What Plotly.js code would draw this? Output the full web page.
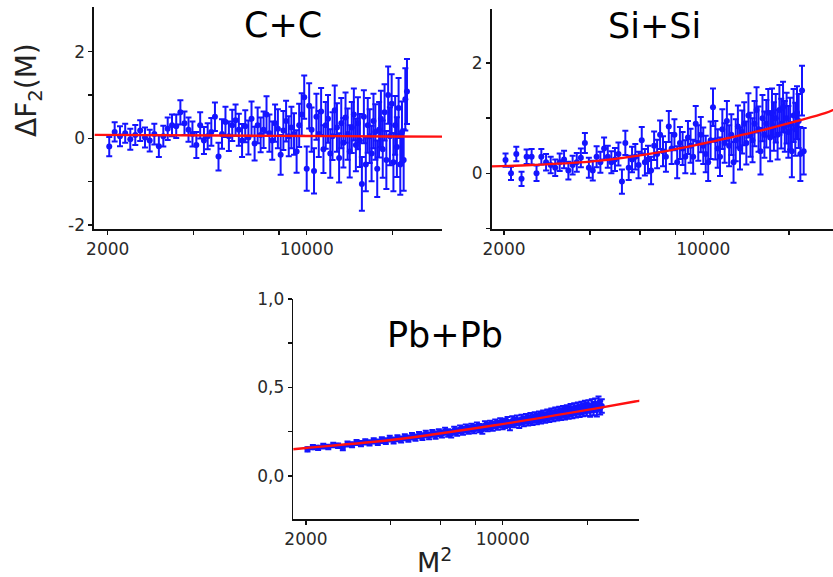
<!DOCTYPE html>
<html>
<head>
<meta charset="utf-8">
<script src="https://cdn.plot.ly/plotly-3.0.1.min.js"></script>
<style>html,body{margin:0;padding:0;background:#fff;}#chart{width:833px;height:577px;}</style>
</head>
<body>
<div id="chart"></div>
<script>
// Shared mass bins (M^2, GeV^2)
const m2 = [2025,2116,2209,2304,2401,2500,2601,2704,2809,2916,3025,3136,3249,3364,3481,3600,3721,3844,3969,4096,4225,4356,4489,4624,4761,4900,5041,5184,5329,5476,5625,5776,5929,6084,6241,6400,6561,6724,6889,7056,7225,7396,7569,7744,7921,8100,8281,8464,8649,8836,9025,9216,9409,9604,9801,10000,10201,10404,10609,10816,11025,11236,11449,11664,11881,12100,12321,12544,12769,12996,13225,13456,13689,13924,14161,14400,14641,14884,15129,15376,15625,15876,16129,16384,16641,16900,17161,17424,17689,17956,18225,18496,18769,19044,19321,19600,19881,20164,20449,20736,21025,21316,21609,21904,22201,22500];

// C+C
const ccY = [-0.19,0.15,0.05,0.12,-0.02,0.08,0.18,0.02,-0.05,0.10,
 -0.18,0.05,0.22,0.30,0.28,0.60,0.35,0.20,0.10,-0.15,
 0.30,-0.05,0.05,0.15,0.50,-0.42,0.10,0.38,0.05,0.30,
 0.42,0.20,-0.05,0.28,0.02,0.45,-0.12,0.30,0.08,0.20,
 0.55,0.12,-0.05,0.35,0.22,-0.38,0.18,0.40,0.05,0.25,
 0.10,-0.30,0.30,0.55,0.95,-0.70,0.75,0.20,-0.75,0.50,
 0.10,0.62,-0.25,0.30,0.45,-0.35,0.05,0.65,0.25,-0.45,
 0.35,-0.10,0.48,0.10,-0.30,0.25,0.55,-0.15,0.35,-0.05,
 -1.05,0.50,-0.60,0.30,0.05,-0.35,0.40,0.15,-0.70,0.20,
 0.45,-0.25,0.60,-0.50,1.00,0.05,0.80,-0.55,0.30,-0.20,
 0.70,-0.60,0.15,-0.50,0.90,1.08];
const ccErr = [0.22,0.22,0.23,0.22,0.24,0.23,0.24,0.23,0.25,0.24,
 0.25,0.24,0.26,0.25,0.27,0.28,0.27,0.28,0.29,0.30,
 0.30,0.31,0.30,0.32,0.33,0.32,0.34,0.35,0.34,0.36,
 0.36,0.37,0.38,0.37,0.39,0.40,0.39,0.41,0.40,0.42,
 0.42,0.43,0.44,0.43,0.45,0.46,0.45,0.47,0.46,0.48,
 0.48,0.49,0.50,0.49,0.50,0.51,0.52,0.51,0.52,0.53,
 0.53,0.54,0.55,0.54,0.55,0.56,0.55,0.57,0.56,0.57,
 0.58,0.57,0.58,0.59,0.60,0.59,0.60,0.61,0.60,0.61,
 0.62,0.61,0.62,0.63,0.62,0.64,0.63,0.64,0.65,0.64,
 0.65,0.66,0.65,0.67,0.66,0.67,0.68,0.67,0.68,0.69,
 0.69,0.70,0.70,0.71,0.72,0.75];
const ccFitX = [1800,5000,10000,20000,30000];
const ccFitY = [0.08,0.065,0.055,0.045,0.04];

// Si+Si
const siY = [0.24,0.00,0.35,-0.10,0.30,0.30,0.00,0.30,0.20,0.15,
 0.10,0.20,0.25,0.05,0.15,0.20,0.28,0.55,0.10,0.05,
 0.30,0.20,0.45,0.30,0.20,0.25,0.35,-0.15,0.55,0.10,
 0.25,0.30,0.15,0.60,0.20,0.25,0.05,0.50,0.35,0.70,
 0.40,0.30,0.85,0.45,0.70,0.20,0.55,0.45,0.30,0.65,
 0.50,0.30,0.90,0.55,0.70,0.50,0.35,0.20,0.60,1.20,
 0.60,0.45,0.30,0.80,0.55,0.95,0.50,0.70,0.20,0.60,
 0.85,0.45,0.75,0.90,0.55,1.05,0.70,0.60,0.90,1.15,
 0.80,0.40,1.00,0.70,0.90,1.10,0.65,1.10,0.85,1.00,
 0.70,1.15,0.90,1.20,0.85,1.00,0.75,0.90,0.40,1.05,
 0.80,1.10,0.95,0.35,1.50,0.40];
const siErr = [0.12,0.12,0.13,0.13,0.13,0.14,0.14,0.14,0.15,0.15,
 0.15,0.16,0.16,0.16,0.17,0.17,0.17,0.18,0.18,0.18,
 0.19,0.19,0.20,0.20,0.20,0.21,0.21,0.22,0.22,0.22,
 0.23,0.23,0.24,0.24,0.24,0.25,0.25,0.26,0.26,0.26,
 0.27,0.27,0.28,0.28,0.28,0.29,0.29,0.30,0.30,0.30,
 0.31,0.31,0.32,0.32,0.32,0.33,0.33,0.34,0.34,0.34,
 0.35,0.35,0.35,0.36,0.36,0.36,0.37,0.37,0.37,0.38,
 0.38,0.38,0.39,0.39,0.39,0.40,0.40,0.40,0.41,0.41,
 0.41,0.42,0.42,0.42,0.43,0.43,0.43,0.44,0.44,0.44,
 0.45,0.45,0.45,0.46,0.46,0.46,0.47,0.47,0.47,0.48,
 0.48,0.48,0.49,0.49,0.45,0.42];
const siFitX = [1800,2500,4170,7150,10000,12240,16000,20980,26730,30000];
const siFitY = [0.125,0.15,0.22,0.39,0.54,0.64,0.78,0.94,1.09,1.20];

// Pb+Pb
const pbY = [0.150,0.162,0.158,0.168,0.163,0.174,0.170,0.158,0.180,0.176,
 0.188,0.182,0.192,0.186,0.198,0.190,0.202,0.196,0.210,0.200,
 0.212,0.206,0.218,0.210,0.224,0.216,0.230,0.222,0.236,0.226,
 0.240,0.230,0.244,0.236,0.252,0.242,0.238,0.256,0.248,0.262,
 0.254,0.268,0.260,0.272,0.264,0.278,0.270,0.262,0.284,0.276,
 0.288,0.280,0.294,0.286,0.300,0.290,0.296,0.306,0.284,0.310,
 0.302,0.314,0.298,0.318,0.308,0.322,0.312,0.326,0.316,0.330,
 0.320,0.334,0.326,0.340,0.330,0.344,0.336,0.350,0.340,0.355,
 0.345,0.358,0.348,0.362,0.352,0.366,0.356,0.372,0.360,0.376,
 0.364,0.380,0.368,0.384,0.372,0.388,0.376,0.392,0.370,0.396,
 0.380,0.400,0.372,0.410,0.385,0.395];
const pbErr = [0.012,0.012,0.012,0.013,0.013,0.013,0.013,0.014,0.014,0.014,
 0.014,0.015,0.015,0.015,0.015,0.016,0.016,0.016,0.016,0.017,
 0.017,0.017,0.017,0.018,0.018,0.018,0.018,0.019,0.019,0.019,
 0.019,0.020,0.020,0.020,0.020,0.021,0.021,0.021,0.021,0.022,
 0.022,0.022,0.022,0.023,0.023,0.023,0.023,0.024,0.024,0.024,
 0.024,0.025,0.025,0.025,0.025,0.026,0.026,0.026,0.026,0.027,
 0.027,0.027,0.027,0.028,0.028,0.028,0.028,0.029,0.029,0.029,
 0.029,0.030,0.030,0.030,0.030,0.031,0.031,0.031,0.031,0.032,
 0.032,0.032,0.032,0.033,0.033,0.033,0.033,0.034,0.034,0.034,
 0.034,0.035,0.035,0.035,0.035,0.036,0.036,0.036,0.036,0.037,
 0.037,0.037,0.037,0.038,0.038,0.038];
const pbFitX = [1800,2000,4140,9390,21290,29500,31000];
const pbFitY = [0.150,0.157,0.205,0.286,0.380,0.420,0.425];

// Tick labels (major) and unlabelled minor tick positions
const xTickVals = [2000,10000];
const xTickText = ['2000','10000'];
const xMinorVals = [4000,6000,8000,20000];
const ccTickVals = [-2,0,2];
const ccTickText = ['-2','0','2'];
const ccMinorVals = [-1,1];
const siTickVals = [0,2];
const siTickText = ['0','2'];
const siMinorVals = [-1,1];
const pbTickVals = [0,0.5,1.0];
const pbTickText = ['0,0','0,5','1,0'];
const pbMinorVals = [0.25,0.75];
const panelTitles = ['C+C','Si+Si','Pb+Pb'];

const BLUE = '#1414ff';
const RED = '#ff1010';
const W = 833, H = 577;
const px = v => v / W;
const py = v => 1 - v / H;

function dataTrace(y, err, xa, ya) {
  return {x: m2, y: y, xaxis: xa, yaxis: ya, type: 'scatter', mode: 'markers',
    marker: {color: BLUE, size: 6, symbol: 'circle'},
    error_y: {type: 'data', array: err, visible: true, color: BLUE, thickness: 2, width: 3},
    hoverinfo: 'skip'};
}
function fitTrace(x, y, xa, ya) {
  return {x: x, y: y, xaxis: xa, yaxis: ya, type: 'scatter', mode: 'lines',
    line: {color: RED, width: 2.4, shape: 'spline'}, hoverinfo: 'skip'};
}

const traces = [
  dataTrace(ccY, ccErr, 'x', 'y'), fitTrace(ccFitX, ccFitY, 'x', 'y'),
  dataTrace(siY, siErr, 'x2', 'y2'), fitTrace(siFitX, siFitY, 'x2', 'y2'),
  dataTrace(pbY, pbErr, 'x3', 'y3'), fitTrace(pbFitX, pbFitY, 'x3', 'y3')
];

const tickFont = {family: 'DejaVu Sans, Arial, sans-serif', size: 17, color: '#2a2a2a'};
function minorSpec(vals) {
  return {tickmode: 'array', tickvals: vals, ticks: 'outside', ticklen: 4, tickwidth: 1.5, tickcolor: '#111', showgrid: false};
}
function xAxis(domain, range, anchor) {
  return {type: 'log', domain: domain, range: range, anchor: anchor,
    tickmode: 'array', tickvals: xTickVals, ticktext: xTickText,
    minor: minorSpec(xMinorVals),
    ticks: 'outside', ticklen: 4, tickwidth: 1.5, tickcolor: '#111',
    showline: true, linecolor: '#111', linewidth: 1.6, mirror: false,
    showgrid: false, zeroline: false, tickfont: tickFont, fixedrange: true};
}
function yAxis(domain, range, anchor, vals, text, minorVals) {
  return {domain: domain, range: range, anchor: anchor,
    tickmode: 'array', tickvals: vals, ticktext: text,
    minor: minorSpec(minorVals),
    ticks: 'outside', ticklen: 4, tickwidth: 1.5, tickcolor: '#111',
    showline: true, linecolor: '#111', linewidth: 1.6,
    showgrid: false, zeroline: false, tickfont: tickFont, fixedrange: true};
}

const titleFont = {family: 'DejaVu Sans, Arial, sans-serif', size: 35, color: '#000'};
const layout = {
  width: W, height: H, margin: {l: 0, r: 0, t: 0, b: 0},
  paper_bgcolor: '#fff', plot_bgcolor: 'rgba(0,0,0,0)', showlegend: false,
  xaxis: xAxis([px(94), px(442)], [3.2529, 4.4752], 'y'),
  yaxis: yAxis([py(229), py(7)], [-2.09, 3.03], 'x', ccTickVals, ccTickText, ccMinorVals),
  xaxis2: xAxis([px(491.7), 1], [3.2579, 4.455], 'y2'),
  yaxis2: yAxis([py(229), py(9)], [-1.01, 2.98], 'x2', siTickVals, siTickText, siMinorVals),
  xaxis3: xAxis([px(293.3), px(639.3)], [3.256, 4.4854], 'y3'),
  yaxis3: yAxis([py(519.3), py(299)], [-0.246, 1.0], 'x3', pbTickVals, pbTickText, pbMinorVals),
  annotations: [
    {text: panelTitles[0], x: px(283), y: py(25), xref: 'paper', yref: 'paper', showarrow: false, xanchor: 'center', yanchor: 'middle', font: titleFont},
    {text: panelTitles[1], x: px(654.5), y: py(26), xref: 'paper', yref: 'paper', showarrow: false, xanchor: 'center', yanchor: 'middle', font: titleFont},
    {text: panelTitles[2], x: px(445), y: py(335), xref: 'paper', yref: 'paper', showarrow: false, xanchor: 'center', yanchor: 'middle', font: titleFont},
    {text: 'ΔF<sub>2</sub>(M)', x: px(28), y: py(90), xref: 'paper', yref: 'paper', showarrow: false, xanchor: 'center', yanchor: 'middle', textangle: -90,
      font: {family: 'DejaVu Sans, Arial, sans-serif', size: 28, color: '#222'}},
    {text: 'M<sup>2</sup>', x: px(434), y: py(560), xref: 'paper', yref: 'paper', showarrow: false, xanchor: 'center', yanchor: 'middle',
      font: {family: 'DejaVu Sans, Arial, sans-serif', size: 27, color: '#222'}}
  ]
};

Plotly.newPlot('chart', traces, layout, {staticPlot: true, displayModeBar: false});
</script>
</body>
</html>
